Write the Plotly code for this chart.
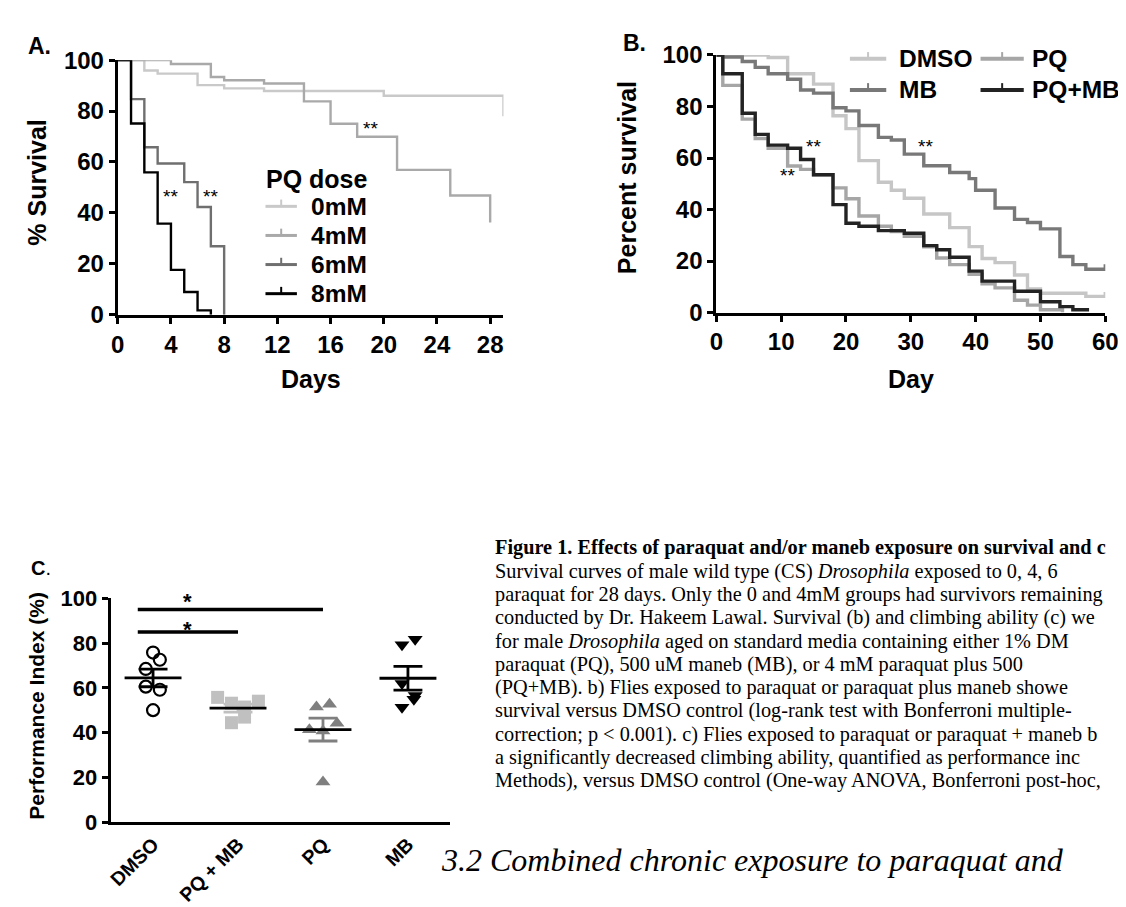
import numpy as np
import plotly.graph_objects as go

W, H = 1126, 907

# ---------------- Panel A: survival by PQ dose ----------------
A_GROUPS = ["0mM", "4mM", "6mM", "8mM"]
A_0_DAYS = [0, 2, 3, 6, 8, 11, 20, 29]
A_0_SURV = [100, 95.9, 94.7, 90.2, 88.9, 87.9, 86.0, 78]
A_4_DAYS = [0, 4, 7, 8, 11, 14, 16, 18, 21, 25, 28]
A_4_SURV = [100, 98.5, 93.4, 92.1, 90.8, 83.8, 75.0, 69.9, 56.9, 46.8, 36.2]
A_6_DAYS = [0, 1, 2, 3, 5, 6, 7, 8]
A_6_SURV = [100, 84.7, 65.8, 59.4, 52.1, 42.3, 26.9, 0]
A_8_DAYS = [0, 1, 2, 3, 4, 5, 6, 7]
A_8_SURV = [100, 75.1, 55.9, 35.8, 17.6, 8.9, 1.7, 0]
A_XTICKS = [0, 4, 8, 12, 16, 20, 24, 28]
A_YTICKS = [0, 20, 40, 60, 80, 100]
A_STARS = [(4, 46.5), (7, 46.5), (19, 73)]

# ---------------- Panel B: survival by treatment ----------------
B_GROUPS = ["DMSO", "PQ", "MB", "PQ+MB"]
B_DMSO_DAYS = [0, 8, 11, 15, 18, 20, 22, 25, 27, 29, 32, 36, 39, 41, 43, 46, 48, 50, 57, 60]
B_DMSO_SURV = [100, 99, 92.7, 88.7, 76.4, 71.4, 59, 50.6, 47.5, 44.4, 38.3, 33, 25.6, 21, 19.4, 14.6, 9.2, 7.5, 6.3, 8]
B_PQ_DAYS = [0, 1, 4, 6, 8, 11, 13, 15, 18, 20, 22, 25, 27, 29, 32, 34, 36, 39, 41, 43, 46, 48, 50, 53.4]
B_PQ_SURV = [100, 88.2, 75.1, 67.6, 63.8, 56.9, 55.6, 53.5, 48.4, 44.2, 37.5, 33.5, 31.5, 29.6, 25.5, 21.2, 18.6, 14.9, 11.2, 9.6, 4.8, 2.9, 1.1, 0]
B_MB_DAYS = [0, 1, 4, 6, 8, 11, 13, 15, 18, 20, 22, 25, 27, 29, 32, 36, 39, 40, 43, 46, 48, 50, 53, 55, 57, 60]
B_MB_SURV = [100, 99.2, 97.5, 95.2, 92.7, 90.6, 86.4, 85.2, 79.5, 78.3, 72.6, 68, 67, 61.5, 57, 54.4, 52, 47.5, 40.6, 36.2, 35, 32.5, 21.8, 18.6, 16.8, 18.8]
B_PQMB_DAYS = [0, 1, 4, 6, 8, 11, 13, 15, 18, 20, 22, 25, 29, 32, 34, 36, 39, 41, 46, 50, 53, 55, 57.5]
B_PQMB_SURV = [100, 92.7, 77.4, 69.2, 65, 63.8, 59.4, 53.5, 41.9, 34.7, 33.5, 31.8, 30.8, 26, 24.4, 21.5, 16.1, 12.2, 8.3, 4.2, 2.3, 1.1, 1.1]
B_XTICKS = [0, 10, 20, 30, 40, 50, 60]
B_YTICKS = [0, 20, 40, 60, 80, 100]
B_STARS = [(15, 64.6), (11, 53.2), (32.2, 64.5)]

# ---------------- Panel C: climbing performance ----------------
C_CATS = ["DMSO", "PQ + MB", "PQ", "MB"]
C_DMSO = [75.8, 72.6, 68.5, 60.6, 59.2, 50.1]
C_PQMB = [55.8, 53.2, 51.5, 54.1, 44.5, 47.0]
C_PQ = [51.5, 52.7, 44.3, 41.4, 40.8, 18.0]
C_MB = [79.3, 81.7, 62.0, 56.6, 55.0, 51.4]
C_YTICKS = [0, 20, 40, 60, 80, 100]
C_SIG = [(0, 2, 95), (0, 1, 85)]  # (group a, group b, bar height)
C_STAR_Y = [98.6, 86.0]           # star label heights for the two comparisons

# horizontal spread of points inside each column (layout only)
C_JITTER = [
    [0, 0.08, -0.085, -0.085, 0.08, 0],
    [-0.24, -0.077, 0.077, 0.24, -0.077, 0.077],
    [-0.077, 0.077, 0.165, -0.16, 0, 0],
    [-0.07, 0.085, -0.07, 0.085, 0.07, -0.07],
]

# ---------------- styling ----------------
SANS = "Liberation Sans, Arial, Helvetica, sans-serif"
SERIF = "Liberation Serif, Times New Roman, serif"
A_COLORS = ["#c9c9c9", "#a9a9a9", "#6f6f6f", "#000000"]
B_COLORS = {"DMSO": "#c6c6c6", "PQ": "#a6a6a6", "MB": "#787878", "PQ+MB": "#232323"}


def px(x):
    return x / W


def py(y):
    return 1 - y / H


fig = go.Figure()

# Panel A curves
a_series = [(A_0_DAYS, A_0_SURV), (A_4_DAYS, A_4_SURV), (A_6_DAYS, A_6_SURV), (A_8_DAYS, A_8_SURV)]
for name, (d, s), c in zip(A_GROUPS, a_series, A_COLORS):
    fig.add_trace(go.Scatter(x=d, y=s, mode="lines", line=dict(color=c, width=2.4, shape="hv"),
                             xaxis="x", yaxis="y", showlegend=False, cliponaxis=False, name=name))

# Panel B curves
b_series = {"DMSO": (B_DMSO_DAYS, B_DMSO_SURV), "PQ": (B_PQ_DAYS, B_PQ_SURV),
            "MB": (B_MB_DAYS, B_MB_SURV), "PQ+MB": (B_PQMB_DAYS, B_PQMB_SURV)}
for name in B_GROUPS:
    d, s = b_series[name]
    fig.add_trace(go.Scatter(x=d, y=s, mode="lines", line=dict(color=B_COLORS[name], width=3.4, shape="hv"),
                             xaxis="x2", yaxis="y2", showlegend=False, cliponaxis=False, name=name))

# Panel C dot plot
c_data = [C_DMSO, C_PQMB, C_PQ, C_MB]
c_markers = [
    dict(symbol="circle-open", size=12, color="#000000", line=dict(width=2.2, color="#000000")),
    dict(symbol="square", size=13, color="#c0c0c0"),
    dict(symbol="triangle-up", size=13, color="#7f7f7f"),
    dict(symbol="triangle-down", size=13, color="#000000"),
]
sem_colors = ["#000000", "#c0c0c0", "#7f7f7f", "#000000"]
for i, (vals, mk, jit, sc) in enumerate(zip(c_data, c_markers, C_JITTER, sem_colors)):
    v = np.array(vals)
    fig.add_trace(go.Scatter(x=[i + j for j in jit], y=v, mode="markers", marker=mk,
                             xaxis="x3", yaxis="y3", showlegend=False, cliponaxis=False, name=C_CATS[i]))
    m = v.mean()
    sem = v.std(ddof=1) / np.sqrt(len(v))
    fig.add_trace(go.Scatter(
        x=[i - 0.17, i + 0.17, None, i, i, None, i - 0.17, i + 0.17],
        y=[m + sem, m + sem, None, m + sem, m - sem, None, m - sem, m - sem],
        mode="lines", line=dict(color=sc, width=2.8), xaxis="x3", yaxis="y3", showlegend=False))
    fig.add_trace(go.Scatter(x=[i - 0.335, i + 0.335], y=[m, m], mode="lines",
                             line=dict(color="#000000", width=2.8), xaxis="x3", yaxis="y3",
                             showlegend=False))

for a, b, h in C_SIG:
    fig.add_trace(go.Scatter(x=[a - 0.18, b], y=[h, h], mode="lines", line=dict(color="#000000", width=3.6),
                             xaxis="x3", yaxis="y3", showlegend=False, cliponaxis=False))


# ---------------- axes ----------------
def axis(size):
    return dict(showgrid=False, zeroline=False, showline=True, linecolor="#000000", linewidth=3,
                ticks="outside", ticklen=6, tickwidth=3, tickcolor="#000000",
                tickfont=dict(family=SANS, size=size, color="#000000", weight="bold"))


fig.update_layout(
    width=W, height=H, margin=dict(l=0, r=0, t=0, b=0),
    paper_bgcolor="white", plot_bgcolor="white", showlegend=False,
    font=dict(family=SANS, color="#000000"),
    xaxis=dict(domain=[px(104.6), px(497.3)], range=[0, 29], tickvals=A_XTICKS, anchor="y", **axis(24)),
    yaxis=dict(domain=[py(301.7), py(39.3)], range=[0, 100], tickvals=A_YTICKS, anchor="x", **axis(24)),
    xaxis2=dict(domain=[px(714), px(1110)], range=[0, 60], tickvals=B_XTICKS, anchor="y2", **axis(24)),
    yaxis2=dict(domain=[py(299.5), py(34)], range=[0, 100], tickvals=B_YTICKS, anchor="x2", **axis(24)),
    xaxis3=dict(domain=[px(97.3), px(443.3)], range=[-0.5, 3.5], tickvals=[0, 1, 2, 3], ticktext=C_CATS,
                tickangle=-45, anchor="y3", showgrid=False, zeroline=False, showline=True,
                linecolor="#000000", linewidth=3, ticks="",
                tickfont=dict(family=SANS, size=19.5, color="#000000", weight="bold")),
    yaxis3=dict(domain=[py(825), py(594)], range=[0, 100], tickvals=C_YTICKS, anchor="x3", **axis(22)),
)

ann = []
shapes = []


def label(text, x, y, size, angle=0, anchor="center", family=SANS):
    ann.append(dict(text=text, x=px(x), y=py(y), xref="paper", yref="paper", showarrow=False,
                    xanchor=anchor, yanchor="middle", textangle=angle,
                    font=dict(family=family, size=size, color="#000000")))


# axis titles
label("<b>% Survival</b>", 22, 166, 25, angle=-90)
label("<b>Days</b>", 301, 368, 25)
label("<b>Percent survival</b>", 623, 160, 25, angle=-90)
label("<b>Day</b>", 912, 368, 25)
label("<b>Performance Index (%)</b>", 21, 705, 21, angle=-90)
# panel letters
label("<b>A.</b>", 11, 25, 23, anchor="left")
label("<b>B.</b>", 617, 22, 23, anchor="left")
label("<b>C</b>.", 14, 563, 20, anchor="left")


# legends (sample line + censor tick + label)
def legend_item(name, color, x0, x1, y, tx, lw):
    shapes.append(dict(type="line", xref="paper", yref="paper", x0=px(x0), x1=px(x1), y0=py(y), y1=py(y),
                       line=dict(color=color, width=lw)))
    xm = (x0 + x1) / 2
    shapes.append(dict(type="line", xref="paper", yref="paper", x0=px(xm), x1=px(xm), y0=py(y), y1=py(y - 7),
                       line=dict(color=color, width=2)))
    label("<b>%s</b>" % name, tx, y, 24.5, anchor="left")


label("<b>PQ dose</b>", 254, 162, 25, anchor="left")
for k, (name, c) in enumerate(zip(A_GROUPS, A_COLORS)):
    legend_item(name, c, 255, 287, 190 + 30 * k, 299, 3)

b_leg_pos = {"DMSO": (850, 887, 38, 898), "MB": (850, 887, 70, 898),
             "PQ": (983, 1027, 38, 1033), "PQ+MB": (983, 1027, 70, 1033)}
for name in B_GROUPS:
    x0, x1, y, tx = b_leg_pos[name]
    legend_item(name, B_COLORS[name], x0, x1, y, tx, 4)

# significance stars
for (dx, dy) in A_STARS:
    ann.append(dict(text="**", x=dx, y=dy, xref="x", yref="y", showarrow=False,
                    font=dict(family=SANS, size=19, color="#000000")))
for (dx, dy) in B_STARS:
    ann.append(dict(text="**", x=dx, y=dy, xref="x2", yref="y2", showarrow=False,
                    font=dict(family=SANS, size=19, color="#000000")))
for sy in C_STAR_Y:
    ann.append(dict(text="<b>*</b>", x=0.405, y=sy, xref="x3", yref="y3", showarrow=False,
                    borderpad=0, font=dict(family=SANS, size=22, color="#000000")))

# caption text
CAPTION = [
    "<b>Figure 1. Effects of paraquat and/or maneb exposure on survival and c</b>",
    "Survival curves of male wild type (CS) <i>Drosophila</i> exposed to 0, 4, 6",
    "paraquat for 28 days. Only the 0 and 4mM groups had survivors remaining",
    "conducted by Dr. Hakeem Lawal. Survival (b) and climbing ability (c) we",
    "for male <i>Drosophila</i> aged on standard media containing either 1% DM",
    "paraquat (PQ), 500 uM maneb (MB), or 4 mM paraquat plus 500",
    "(PQ+MB). b) Flies exposed to paraquat or paraquat plus maneb showe",
    "survival versus DMSO control (log-rank test with Bonferroni multiple-",
    "correction; p &lt; 0.001). c) Flies exposed to paraquat or paraquat + maneb b",
    "a significantly decreased climbing ability, quantified as performance inc",
    "Methods), versus DMSO control (One-way ANOVA, Bonferroni post-hoc,",
]
for k, line in enumerate(CAPTION):
    label(line, 487, 542 + 24 * k, 20.3, anchor="left", family=SERIF)
label("<i>3.2 Combined chronic exposure to paraquat and</i>", 432, 864, 32, anchor="left", family=SERIF)

fig.update_layout(annotations=ann, shapes=shapes)
fig.write_html("out.html")
